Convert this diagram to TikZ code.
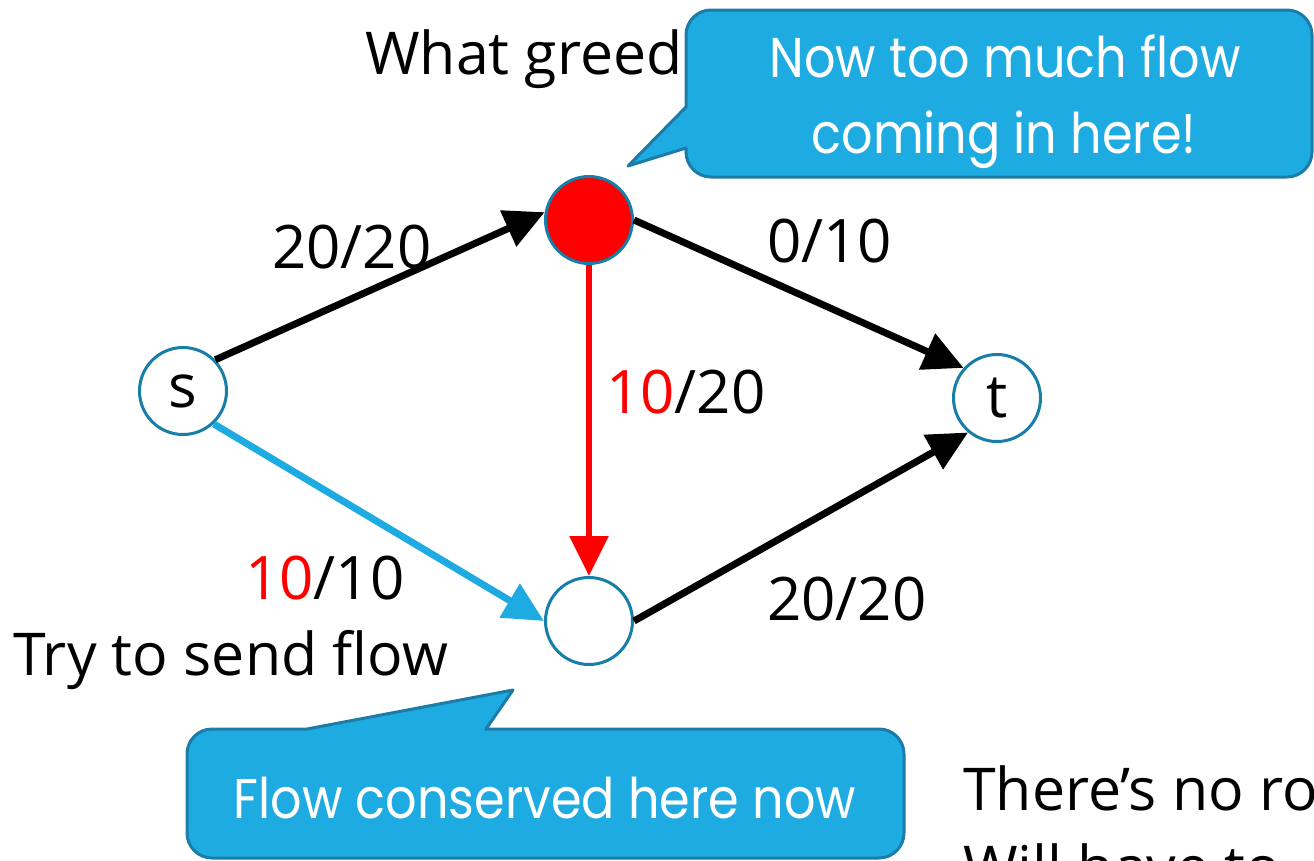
\documentclass[tikz,border=0pt]{standalone}
\usepackage{fontspec}
\setmainfont{Open Sans}
\newfontfamily\calloutfont[FakeStretch=0.88]{Poppins}
\usetikzlibrary{arrows.meta}
\definecolor{callfill}{RGB}{30,171,226}
\definecolor{calledge}{RGB}{28,124,168}
\definecolor{nodeedge}{RGB}{22,126,168}
\definecolor{flowred}{RGB}{255,0,0}
\definecolor{flowblue}{RGB}{30,171,226}
\begin{document}
\begin{tikzpicture}[x=1pt,y=-1pt,
  vertex/.style={circle,draw=nodeedge,line width=3pt,minimum size=87pt,inner sep=0pt,fill=white,font=\fontsize{60}{72}\selectfont},
  edgeline/.style={line width=7pt,-{Triangle[length=40pt,width=38pt]}},
  lbl/.style={anchor=base west,inner sep=0pt,font=\fontsize{60}{72}\selectfont},
  bigtext/.style={anchor=base west,inner sep=0pt,font=\fontsize{59}{72}\selectfont},
  bubble/.style={fill=callfill,draw=calledge,line width=3pt,line join=round},
  bubbletext/.style={anchor=base,inner sep=0pt,text=white,font=\calloutfont\fontsize{56}{70}\selectfont}]
\useasboundingbox (0,0) rectangle (1314,860);
\clip (0,0) rectangle (1314,860);

% background texts
\node[bigtext] (whatgreed) at (365,74) {What greed};
\node[bigtext] (trysend) at (13,675) {Try to send flow};
\node[bigtext] (noroom) at (963,810) {There’s no ro};
\node[bigtext] (willhave) at (963,888) {Will have to};

% vertices
\node[vertex] (s) at (183,391) {s};
\node[vertex,fill=flowred] (a) at (589,220) {};
\node[vertex] (b) at (589,621) {};
\node[vertex] (t) at (997,398) {t};

% edges
\draw[edgeline,black] (s.44) -- (a.170);
\draw[edgeline,black] (a.0) -- (t.138);
\draw[edgeline,flowred,line width=6pt] (a.270) -- (b.90);
\draw[edgeline,flowblue] (s.313) -- (b.180);
\draw[edgeline,black] (b.0) -- (t.230);

% edge labels
\node[lbl] (lsa) at (272,268) {20/20};
\node[lbl] (lat) at (767,262) {0/10};
\node[lbl] (lab) at (606,413) {\textcolor{flowred}{10}/20};
\node[lbl] (lsb) at (245,599) {\textcolor{flowred}{10}/10};
\node[lbl] (lbt) at (767,620) {20/20};

% top callout
\draw[bubble] (686,107) [rounded corners=25pt] -- (686,10) -- (1312,10) -- (1312,177) -- (686,177) [sharp corners] -- (686,148) -- (628,166) -- cycle;
\node[bubbletext] (toomuch1) at (1005,77) {Now too much flow};
\node[bubbletext] (toomuch2) at (1004,153) {coming in here!};

% bottom callout
\draw[bubble] (486,729) [rounded corners=25pt] -- (904,729) -- (904,858) -- (187,858) -- (187,729) [sharp corners] -- (307,729) -- (513,690) -- cycle;
\node[bubbletext] (conserved) at (545,818) {Flow conserved here now};
\end{tikzpicture}
\end{document}
